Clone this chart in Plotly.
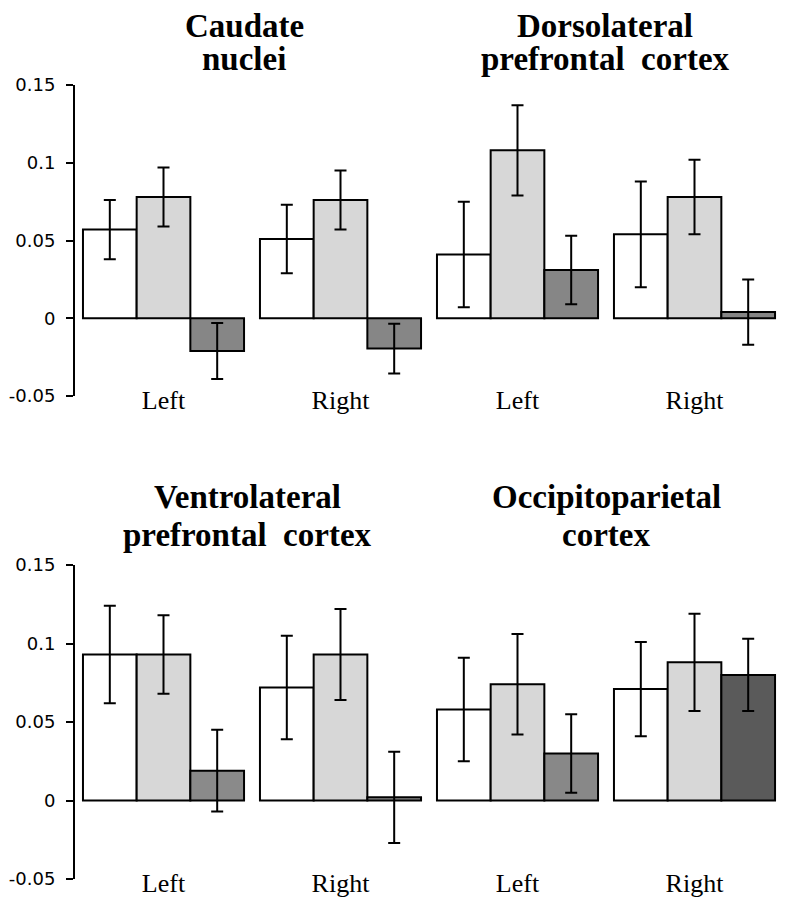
import plotly.graph_objects as go

# four categories per row: Left/Right for each of two regions
categories = ["Left", "Right", "Left", "Right"]
xpos = [0, 1, 2, 3]
y_ticks = [0.15, 0.1, 0.05, 0, -0.05]
y_tick_text = ["0.15", "0.1", "0.05", "0", "-0.05"]

# top row: Caudate nuclei (Left, Right), Dorsolateral prefrontal cortex (Left, Right)
top_white = [0.057, 0.051, 0.041, 0.054]
top_white_err = [0.019, 0.022, 0.034, 0.034]
top_light = [0.078, 0.076, 0.108, 0.078]
top_light_err = [0.019, 0.019, 0.029, 0.024]
top_dark = [-0.021, -0.0195, 0.031, 0.004]
top_dark_err = [0.018, 0.016, 0.022, 0.021]

# bottom row: Ventrolateral prefrontal cortex, Occipitoparietal cortex
bot_white = [0.093, 0.072, 0.058, 0.071]
bot_white_err = [0.031, 0.033, 0.033, 0.030]
bot_light = [0.093, 0.093, 0.074, 0.088]
bot_light_err = [0.025, 0.029, 0.032, 0.031]
bot_dark = [0.019, 0.002, 0.030, 0.080]
bot_dark_err = [0.026, 0.029, 0.025, 0.023]

# panel titles, one entry per line
title_lines = [
    ["Caudate", "nuclei"],
    ["Dorsolateral", "prefrontal\u00a0 cortex"],
    ["Ventrolateral", "prefrontal\u00a0 cortex"],
    ["Occipitoparietal", "cortex"],
]

# page body has an 8px margin, so lay out in window pixels minus that offset
OFF = 8
W, H = 791 - OFF, 899 - OFF
FILLS = ["#ffffff", "#d7d7d7", "#868686"]
DARK_BOTTOM = ["#8a8a8a", "#8a8a8a", "#888888", "#5a5a5a"]


def px_x(p):
    return (p - OFF) / W


def px_y(p):
    return 1 - (p - OFF) / H


fig = go.Figure()


def add_row(vals, errs, colors, xa, ya):
    for v, e, c in zip(vals, errs, colors):
        fig.add_trace(go.Bar(
            x=xpos, y=v, xaxis=xa, yaxis=ya,
            marker=dict(color=c, line=dict(color="black", width=2)),
            error_y=dict(type="data", array=e, color="black", thickness=2, width=6),
            showlegend=False,
        ))


add_row([top_white, top_light, top_dark],
        [top_white_err, top_light_err, top_dark_err],
        FILLS, "x", "y")
add_row([bot_white, bot_light, bot_dark],
        [bot_white_err, bot_light_err, bot_dark_err],
        [FILLS[0], FILLS[1], DARK_BOTTOM], "x2", "y2")

xdom = [px_x(75), px_x(783)]
rows = {
    # row: (y axis top px, bottom px, zero px)
    "1": (85, 396, 319),
    "2": (565, 879, 801),
}

label_font = dict(family="Liberation Serif, Times New Roman, serif", size=26, color="black")
tick_font = dict(family="DejaVu Sans, Arial, sans-serif", size=18, color="black")

axes = {}
for i, (top, bot, zero) in rows.items():
    xa = "xaxis" if i == "1" else "xaxis2"
    ya = "yaxis" if i == "1" else "yaxis2"
    za = "xaxis3" if i == "1" else "xaxis4"
    xname = "x" if i == "1" else "x2"
    axes[xa] = dict(
        domain=xdom, range=[-0.5, 3.5], anchor="free", position=px_y(bot - 14),
        tickvals=xpos, ticktext=categories, ticks="", showline=False,
        showgrid=False, zeroline=False, tickfont=label_font, automargin=False,
    )
    axes[ya] = dict(
        domain=[px_y(bot), px_y(top)], range=[-0.05, 0.15], anchor=xname,
        tickvals=y_ticks, ticktext=y_tick_text, ticks="outside", ticklen=7,
        tickwidth=2, tickcolor="black", showline=True, linecolor="black",
        linewidth=2, showgrid=False, zeroline=False, tickfont=tick_font,
        ticklabelstandoff=7, automargin=False,
    )
    axes[za] = dict(
        domain=xdom, range=[-0.5, 3.5], overlaying=xname, anchor="free",
        position=px_y(zero), side="bottom", showline=True, linecolor="black",
        linewidth=2, tickvals=[0.5, 2.5, 3.5], ticks="outside", ticklen=7,
        tickwidth=2, tickcolor="black", showticklabels=False, showgrid=False,
        zeroline=False, automargin=False,
    )

# (center x, line-1 center y, line-2 center y) in window pixels
title_pos = [(244, 26, 59), (605, 26, 59), (248, 497, 535), (606, 497, 535)]
title_font = dict(family="Liberation Serif, Times New Roman, serif", size=33,
                  color="black", weight="bold")
annotations = []
for lines, (cx, y1, y2) in zip(title_lines, title_pos):
    for txt, cy in zip(lines, (y1, y2)):
        ann = dict(
            text=txt, x=px_x(cx), y=px_y(cy), xref="paper", yref="paper",
            xanchor="center", yanchor="middle", showarrow=False, font=title_font,
        )
        if cy < 40:
            # tighter box so the first title line stays inside the page
            ann["height"] = 34
        annotations.append(ann)

fig.update_layout(
    template="none",
    width=W, height=H,
    margin=dict(l=0, r=0, t=0, b=0),
    paper_bgcolor="white", plot_bgcolor="white",
    barmode="group", bargap=0.09, bargroupgap=0,
    annotations=annotations,
    **axes,
)

fig.write_html("out.html")
